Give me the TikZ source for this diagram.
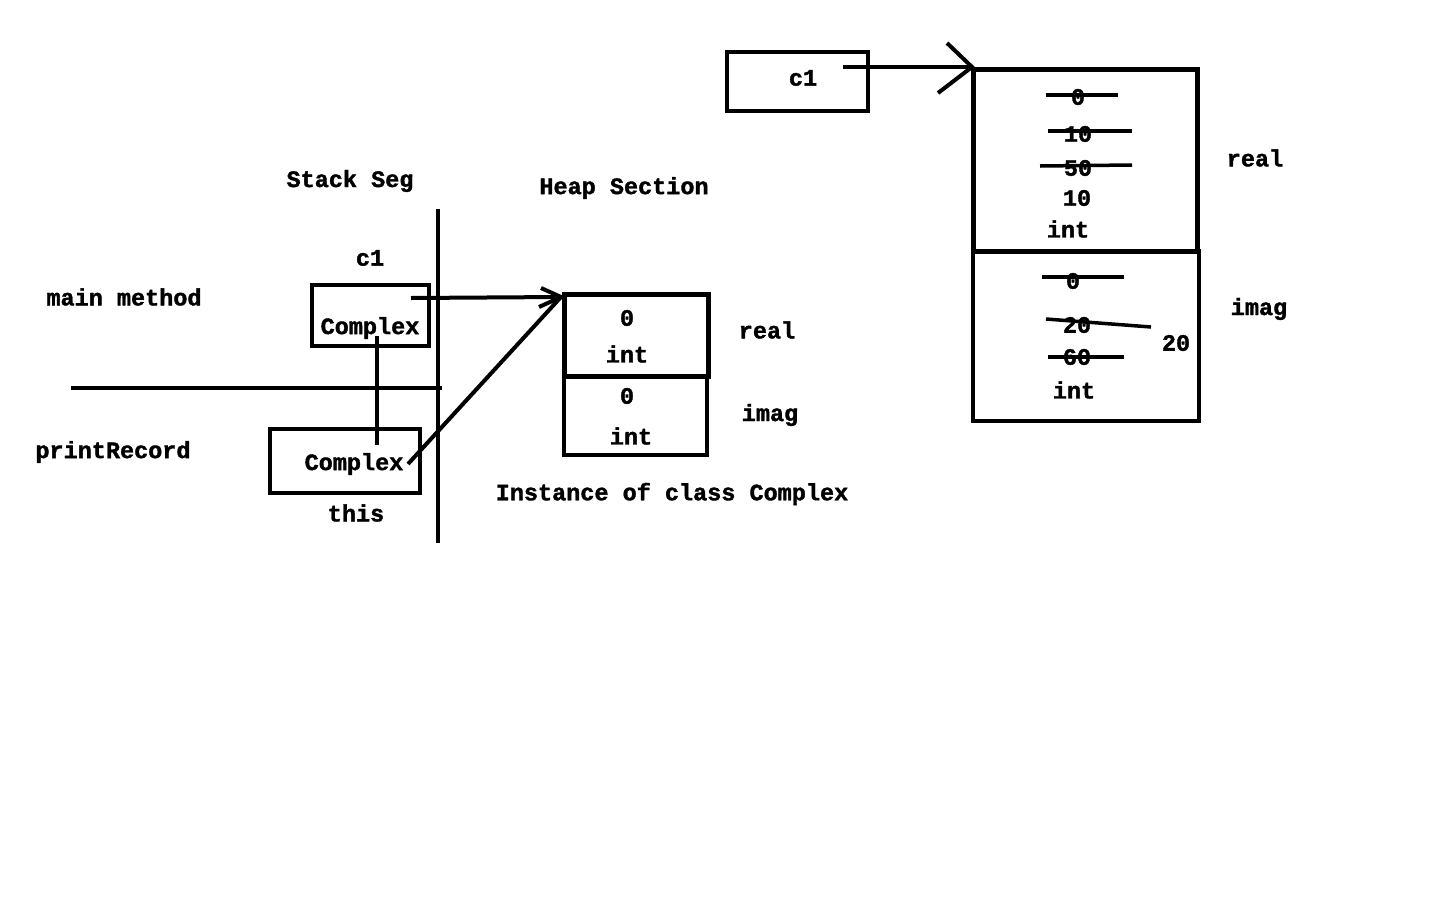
\documentclass[tikz,border=0pt]{standalone}
\usepackage{fontspec}
\setmainfont{Liberation Mono}[BoldFeatures={FakeBold=1.5}]
\begin{document}
\begin{tikzpicture}[x=1pt,y=-1pt,
  every node/.style={font=\fontsize{23.5}{26}\selectfont\bfseries, inner sep=0pt},
  line/.style={line width=4pt},
  thickline/.style={line width=5pt},
  thinline/.style={line width=3.5pt},
  strike/.style={line width=3.5pt}]
\useasboundingbox[fill=white] (0,0) rectangle (1440,900);

% ---- labels ----
\node (stack) at (350,181) {Stack Seg};
\node (heap) at (624,188) {Heap Section};
\node (c1lbl) at (370,258) {c1};
\node (main) at (124,297) {main method};
\node (print) at (113,452) {printRecord};
\node (this) at (356,513) {this};
\node (inst) at (672,494) {Instance of class Complex};

% ---- stack frame lines ----
\coordinate (vtop) at (438,209);
\coordinate (vbot) at (438,543);
\draw[line] (vtop) -- (vbot);
\coordinate (hl) at (71,388);
\coordinate (hr) at (442,388);
\draw[line] (hl) -- (hr);

% ---- stack boxes ----
\draw[thinline] (312,285) rectangle (429,346);
\node (cx1) at (370,328) {Complex};
\draw[thinline] (270,429) rectangle (420,493);
\node (cx2) at (354,464) {Complex};
\coordinate (link1) at (377,336);
\coordinate (link2) at (377,445);
\draw[thinline] (link1) -- (link2);

% ---- heap instance ----
\draw[thickline] (564,294) rectangle (708,376);
\draw[thinline] (564,376) rectangle (707,455);
\node (h0a) at (627,318) {0};
\node (hinta) at (627,354) {int};
\node (h0b) at (627,396) {0};
\node (hintb) at (631,436) {int};
\node (hreal) at (767,330) {real};
\node (himag) at (770,415) {imag};

% ---- arrows from stack to heap ----
\coordinate (a1s) at (411,298);
\coordinate (htip) at (561,297);
\draw[line] (a1s) -- (htip);
\draw[line] (541,288) -- (htip) -- (539,307);
\coordinate (a2s) at (408,464);
\draw[line] (a2s) -- (htip);

% ---- top right: c1 reference ----
\draw[thinline] (727,52) rectangle (868,111);
\node (c1b) at (803,78) {c1};
\coordinate (a3s) at (843,67);
\coordinate (btip) at (972,67);
\draw[line] (a3s) -- (btip);
\draw[line] (947,43) -- (btip) -- (938,93);

% ---- big object ----
\draw[thickline] (973,69) rectangle (1197,251);
\draw[thinline] (973,251) rectangle (1199,421);

\node (r0) at (1078,97) {0};
\draw[strike] (1046,95) -- (1118,95);
\node (r10) at (1078,134) {10};
\draw[strike] (1048,131) -- (1132,131);
\node (r50) at (1078,168) {50};
\draw[strike] (1040,166) -- (1132,165);
\node (r10b) at (1077,198) {10};
\node (rint) at (1068,229) {int};

\node (i0) at (1073,281) {0};
\draw[strike] (1042,277) -- (1124,277);
\node (i20) at (1077,325) {20};
\draw[strike] (1046,319) -- (1151,327);
\node (i60) at (1077,357) {60};
\draw[strike] (1048,357) -- (1124,357);
\node (iint) at (1074,390) {int};
\node (i20b) at (1176,343) {20};

\node (breal) at (1255,158) {real};
\node (bimag) at (1259,309) {imag};
\end{tikzpicture}
\end{document}
